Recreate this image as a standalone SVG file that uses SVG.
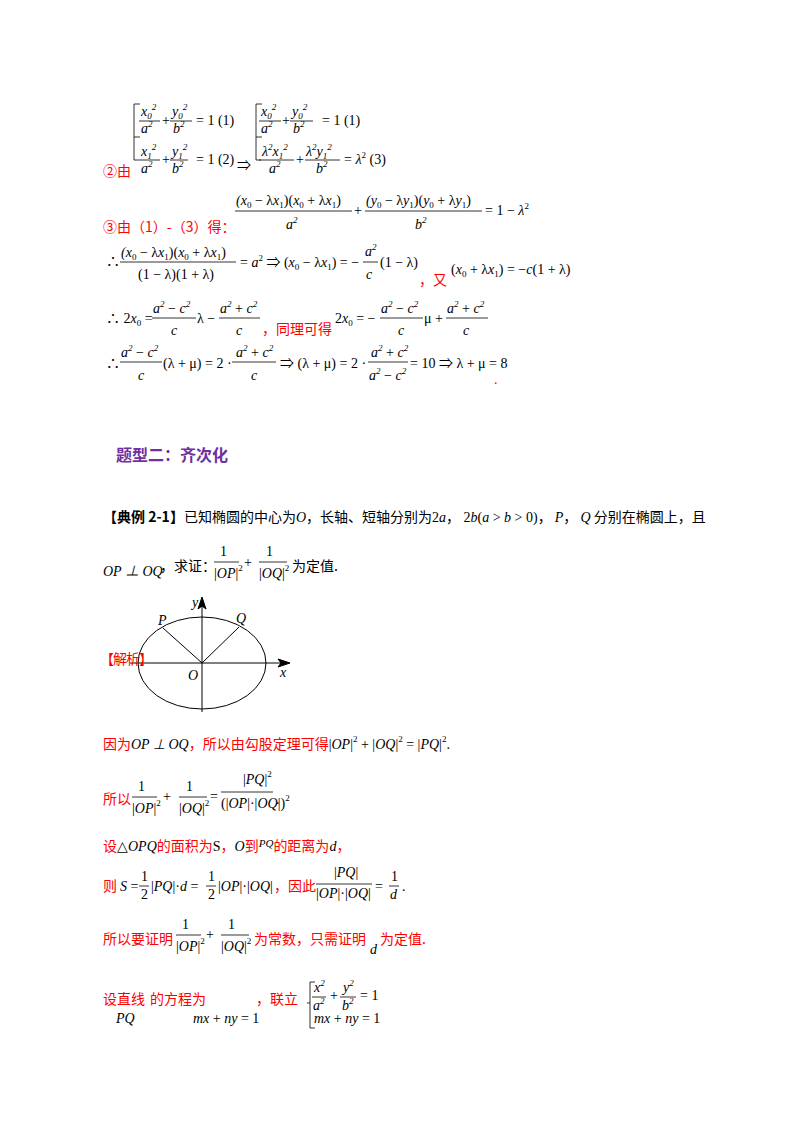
<svg xmlns="http://www.w3.org/2000/svg" width="800" height="1132" viewBox="0 0 800 1132">
<style>
text{font-family:"Liberation Serif","Noto Sans CJK SC",serif;font-size:14px;fill:#000}
.i{font-style:italic}
.s{font-size:9px}
.cn{font-family:"Noto Sans CJK SC","Liberation Sans",sans-serif;font-size:14px}
.red{fill:#ff0000}
.h{font-family:"Noto Sans CJK SC",sans-serif;font-size:16px;font-weight:bold;fill:#7030a0}
line.f{stroke:#000;stroke-width:0.8}
</style>
<rect width="800" height="1132" fill="#fff"/>
<g id="system1">
<path d="M134 104 V160 M134 104 h6 M134 137 h6 M134 160 h5" stroke="#000" fill="none" stroke-width="0.8"/>
<text x="141" y="116" class="i">x<tspan class="s" dy="3">0</tspan><tspan class="s" dy="-9">2</tspan></text>
<line class="f" x1="139" y1="121" x2="160" y2="121"/><text x="141" y="133" class="i">a<tspan class="s" dy="-6">2</tspan></text>
<text x="162" y="125">+</text>
<text x="172" y="116" class="i">y<tspan class="s" dy="3">0</tspan><tspan class="s" dy="-9">2</tspan></text>
<line class="f" x1="170" y1="121" x2="192" y2="121"/><text x="173" y="133" class="i">b<tspan class="s" dy="-6">2</tspan></text>
<text x="196" y="125">= 1  (1)</text>
<text x="141" y="156" class="i">x<tspan class="s" dy="3">1</tspan><tspan class="s" dy="-9">2</tspan></text>
<line class="f" x1="139" y1="160" x2="160" y2="160"/><text x="141" y="173" class="i">a<tspan class="s" dy="-6">2</tspan></text>
<text x="162" y="164">+</text>
<text x="172" y="156" class="i">y<tspan class="s" dy="3">1</tspan><tspan class="s" dy="-9">2</tspan></text>
<line class="f" x1="170" y1="160" x2="188" y2="160"/><text x="172" y="173" class="i">b<tspan class="s" dy="-6">2</tspan></text>
<text x="196" y="164">= 1  (2)</text>
<text x="237" y="170">⇒</text>
</g>
<g id="system2">
<path d="M256 104 V160 M256 104 h6 M256 137 h6 M256 160 h5" stroke="#000" fill="none" stroke-width="0.8"/>
<text x="261" y="116" class="i">x<tspan class="s" dy="3">0</tspan><tspan class="s" dy="-9">2</tspan></text>
<line class="f" x1="259" y1="121" x2="281" y2="121"/><text x="261" y="133" class="i">a<tspan class="s" dy="-6">2</tspan></text>
<text x="282" y="125">+</text>
<text x="292" y="116" class="i">y<tspan class="s" dy="3">0</tspan><tspan class="s" dy="-9">2</tspan></text>
<line class="f" x1="290" y1="121" x2="313" y2="121"/><text x="293" y="133" class="i">b<tspan class="s" dy="-6">2</tspan></text>
<text x="322" y="125">= 1  (1)</text>
<text x="262" y="156" class="i">λ<tspan class="s" dy="-6">2</tspan><tspan dy="6">x</tspan><tspan class="s" dy="3">1</tspan><tspan class="s" dy="-9">2</tspan></text>
<line class="f" x1="259" y1="160" x2="294" y2="160"/><text x="269" y="173" class="i">a<tspan class="s" dy="-6">2</tspan></text>
<text x="296" y="164">+</text>
<text x="306" y="156" class="i">λ<tspan class="s" dy="-6">2</tspan><tspan dy="6">y</tspan><tspan class="s" dy="3">1</tspan><tspan class="s" dy="-9">2</tspan></text>
<line class="f" x1="305" y1="160" x2="340" y2="160"/><text x="316" y="173" class="i">b<tspan class="s" dy="-6">2</tspan></text>
<text x="344" y="164">= <tspan class="i">λ</tspan><tspan class="s" dy="-6">2</tspan><tspan dy="6">   (3)</tspan></text>
</g>
<text x="103" y="176" class="cn red">②由</text>
<g id="row3">
<text x="236" y="205"><tspan class="i">(x</tspan><tspan class="s" dy="3">0</tspan><tspan dy="-3"> − λ</tspan><tspan class="i">x</tspan><tspan class="s" dy="3">1</tspan><tspan dy="-3">)(</tspan><tspan class="i">x</tspan><tspan class="s" dy="3">0</tspan><tspan dy="-3"> + λ</tspan><tspan class="i">x</tspan><tspan class="s" dy="3">1</tspan><tspan dy="-3">)</tspan></text>
<line class="f" x1="235" y1="211" x2="352" y2="211"/><text x="286" y="229" class="i">a<tspan class="s" dy="-6">2</tspan></text>
<text x="354" y="215">+</text>
<text x="366" y="205"><tspan class="i">(y</tspan><tspan class="s" dy="3">0</tspan><tspan dy="-3"> − λ</tspan><tspan class="i">y</tspan><tspan class="s" dy="3">1</tspan><tspan dy="-3">)(</tspan><tspan class="i">y</tspan><tspan class="s" dy="3">0</tspan><tspan dy="-3"> + λ</tspan><tspan class="i">y</tspan><tspan class="s" dy="3">1</tspan><tspan dy="-3">)</tspan></text>
<line class="f" x1="365" y1="211" x2="482" y2="211"/><text x="415" y="229" class="i">b<tspan class="s" dy="-6">2</tspan></text>
<text x="485" y="215">= 1 − <tspan class="i">λ</tspan><tspan class="s" dy="-6">2</tspan></text>
</g>
<text x="103" y="232" class="cn red">③由（1）-（3）得：</text>
<g id="row4">
<text x="106" y="266">∴</text>
<text x="121" y="257"><tspan class="i">(x</tspan><tspan class="s" dy="3">0</tspan><tspan dy="-3"> − λ</tspan><tspan class="i">x</tspan><tspan class="s" dy="3">1</tspan><tspan dy="-3">)(</tspan><tspan class="i">x</tspan><tspan class="s" dy="3">0</tspan><tspan dy="-3"> + λ</tspan><tspan class="i">x</tspan><tspan class="s" dy="3">1</tspan><tspan dy="-3">)</tspan></text>
<line class="f" x1="120" y1="262" x2="236" y2="262"/><text x="138" y="279">(1 − λ)(1 + λ)</text>
<text x="240" y="267">= <tspan class="i">a</tspan><tspan class="s" dy="-6">2</tspan><tspan dy="6">  ⇒  (</tspan><tspan class="i">x</tspan><tspan class="s" dy="3">0</tspan><tspan dy="-3"> − λ</tspan><tspan class="i">x</tspan><tspan class="s" dy="3">1</tspan><tspan dy="-3">) = −</tspan></text>
<text x="365" y="256" class="i">a<tspan class="s" dy="-6">2</tspan></text>
<line class="f" x1="363" y1="262" x2="378" y2="262"/><text x="366" y="279" class="i">c</text>
<text x="380" y="267">(1 − λ)</text>
<text x="419" y="285" class="cn red">，又</text>
<text x="451" y="274">(<tspan class="i">x</tspan><tspan class="s" dy="3">0</tspan><tspan dy="-3"> + λ</tspan><tspan class="i">x</tspan><tspan class="s" dy="3">1</tspan><tspan dy="-3">) = −</tspan><tspan class="i">c</tspan>(1 + λ)</text>
</g>
<g id="row5">
<text x="106" y="323">∴  2<tspan class="i">x</tspan><tspan class="s" dy="3">0</tspan><tspan dy="-3"> =</tspan></text>
<text x="153" y="313" class="i">a<tspan class="s" dy="-6">2</tspan><tspan dy="6" font-style="normal"> − </tspan>c<tspan class="s" dy="-6">2</tspan></text>
<line class="f" x1="152" y1="318" x2="196" y2="318"/><text x="171" y="335" class="i">c</text>
<text x="197" y="323">λ −</text>
<text x="220" y="313" class="i">a<tspan class="s" dy="-6">2</tspan><tspan dy="6" font-style="normal"> + </tspan>c<tspan class="s" dy="-6">2</tspan></text>
<line class="f" x1="219" y1="318" x2="260" y2="318"/><text x="236" y="335" class="i">c</text>
<text x="262" y="334" class="cn red">，同理可得</text>
<text x="335" y="323">2<tspan class="i">x</tspan><tspan class="s" dy="3">0</tspan><tspan dy="-3"> = −</tspan></text>
<text x="381" y="313" class="i">a<tspan class="s" dy="-6">2</tspan><tspan dy="6" font-style="normal"> − </tspan>c<tspan class="s" dy="-6">2</tspan></text>
<line class="f" x1="380" y1="318" x2="423" y2="318"/><text x="398" y="335" class="i">c</text>
<text x="424" y="323">μ +</text>
<text x="447" y="313" class="i">a<tspan class="s" dy="-6">2</tspan><tspan dy="6" font-style="normal"> + </tspan>c<tspan class="s" dy="-6">2</tspan></text>
<line class="f" x1="446" y1="318" x2="488" y2="318"/><text x="463" y="335" class="i">c</text>
</g>
<g id="row6">
<text x="106" y="368">∴</text>
<text x="121" y="357" class="i">a<tspan class="s" dy="-6">2</tspan><tspan dy="6" font-style="normal"> − </tspan>c<tspan class="s" dy="-6">2</tspan></text>
<line class="f" x1="120" y1="362" x2="162" y2="362"/><text x="138" y="380" class="i">c</text>
<text x="163" y="368">(λ + μ) = 2 ·</text>
<text x="236" y="357" class="i">a<tspan class="s" dy="-6">2</tspan><tspan dy="6" font-style="normal"> + </tspan>c<tspan class="s" dy="-6">2</tspan></text>
<line class="f" x1="232" y1="362" x2="276" y2="362"/><text x="251" y="380" class="i">c</text>
<text x="280" y="368">⇒  (λ + μ) = 2 ·</text>
<text x="371" y="357" class="i">a<tspan class="s" dy="-6">2</tspan><tspan dy="6" font-style="normal"> + </tspan>c<tspan class="s" dy="-6">2</tspan></text>
<line class="f" x1="368" y1="362" x2="408" y2="362"/><text x="369" y="380" class="i">a<tspan class="s" dy="-6">2</tspan><tspan dy="6" font-style="normal"> − </tspan>c<tspan class="s" dy="-6">2</tspan></text>
<text x="410" y="368">= 10  ⇒  λ + μ = 8</text>
<text x="494" y="384" class="red">.</text>
</g>
<text x="116" y="461" class="h">题型二：齐次化</text>
<g id="problem">
<text x="103" y="522" class="cn"><tspan font-weight="bold">【典例 2-1】</tspan>已知椭圆的中心为<tspan class="i" font-family="Liberation Serif">O</tspan>，长轴、短轴分别为<tspan font-family="Liberation Serif">2<tspan class="i">a</tspan></tspan>，<tspan font-family="Liberation Serif"> 2<tspan class="i">b</tspan>(<tspan class="i">a</tspan> &gt; <tspan class="i">b</tspan> &gt; 0)</tspan>， <tspan class="i" font-family="Liberation Serif">P</tspan>， <tspan class="i" font-family="Liberation Serif">Q</tspan> 分别在椭圆上，且</text>
<text x="103" y="576" class="i">OP ⊥ OQ</text>
<text x="160" y="571" class="cn" font-size="13">，求证：</text>
<text x="220" y="556">1</text>
<line class="f" x1="214" y1="562" x2="239" y2="562"/><text x="214" y="578">|<tspan class="i">OP</tspan>|<tspan class="s" dy="-7">2</tspan></text>
<text x="244" y="567">+</text>
<text x="266" y="556">1</text>
<line class="f" x1="259" y1="562" x2="287" y2="562"/><text x="259" y="578">|<tspan class="i">OQ</tspan>|<tspan class="s" dy="-7">2</tspan></text>
<text x="292" y="571" class="cn">为定值.</text>
</g>
<g id="figure" stroke="#000" fill="none" stroke-width="1">
<ellipse cx="202" cy="663" rx="64" ry="46"/>
<line x1="130" y1="663" x2="282" y2="663"/>
<line x1="202" y1="712" x2="202" y2="602"/>
<line x1="202" y1="663" x2="163" y2="628"/>
<line x1="202" y1="663" x2="239" y2="627"/>
<path d="M290 663 L278 659 L281 663 L278 667 Z" fill="#000"/>
<path d="M202 597 L198 609 L202 606 L206 609 Z" fill="#000"/>
</g>
<g id="fig-labels">
<text x="158" y="625" class="i">P</text>
<text x="236" y="623" class="i">Q</text>
<text x="192" y="607" class="i">y</text>
<text x="188" y="680" class="i">O</text>
<text x="280" y="677" class="i">x</text>
</g>
<text x="100" y="664" class="cn red" font-size="12" letter-spacing="-1">【解析】</text>
<g id="solution">
<text x="103" y="749" class="cn red">因为<tspan class="i" font-family="Liberation Serif" fill="#000">OP ⊥ OQ</tspan>，所以由勾股定理可得<tspan font-family="Liberation Serif" fill="#000">|<tspan class="i">OP</tspan>|<tspan class="s" dy="-7">2</tspan><tspan dy="7"> + |</tspan><tspan class="i">OQ</tspan>|<tspan class="s" dy="-7">2</tspan><tspan dy="7"> = |</tspan><tspan class="i">PQ</tspan>|<tspan class="s" dy="-7">2</tspan><tspan dy="7">.</tspan></tspan></text>
<text x="103" y="804" class="cn red">所以</text>
<text x="138" y="791">1</text>
<line class="f" x1="132" y1="797" x2="157" y2="797"/><text x="132" y="813">|<tspan class="i">OP</tspan>|<tspan class="s" dy="-7">2</tspan></text>
<text x="163" y="801">+</text>
<text x="186" y="791">1</text>
<line class="f" x1="179" y1="797" x2="207" y2="797"/><text x="179" y="813">|<tspan class="i">OQ</tspan>|<tspan class="s" dy="-7">2</tspan></text>
<text x="210" y="801">=</text>
<text x="243" y="784">|<tspan class="i">PQ</tspan>|<tspan class="s" dy="-7">2</tspan></text>
<line class="f" x1="221" y1="792" x2="273" y2="792"/><text x="221" y="808">(|<tspan class="i">OP</tspan>|·|<tspan class="i">OQ</tspan>|)<tspan class="s" dy="-7">2</tspan></text>
<text x="276" y="804">.</text>
<text x="103" y="851" class="cn red">设<tspan fill="#000" font-family="Liberation Serif">△<tspan class="i">OPQ</tspan></tspan>的面积为<tspan fill="#000" font-family="Liberation Serif">S</tspan>，<tspan fill="#000" font-family="Liberation Serif" class="i">O</tspan>到<tspan fill="#000" font-family="Liberation Serif" class="i" font-size="11" dy="-4">PQ</tspan><tspan dy="4">的距离为</tspan><tspan fill="#000" font-family="Liberation Serif" class="i">d</tspan>，</text>
<text x="103" y="891" class="cn red">则</text>
<text x="120" y="891"><tspan class="i">S</tspan> =</text>
<text x="141" y="881">1</text>
<line class="f" x1="139" y1="886" x2="149" y2="886"/><text x="141" y="899">2</text>
<text x="151" y="891">|<tspan class="i">PQ</tspan>|·<tspan class="i">d</tspan> =</text>
<text x="208" y="881">1</text>
<line class="f" x1="206" y1="886" x2="216" y2="886"/><text x="208" y="899">2</text>
<text x="218" y="891">|<tspan class="i">OP</tspan>|·|<tspan class="i">OQ</tspan>|</text>
<text x="274" y="891" class="cn red">，因此</text>
<text x="334" y="877">|<tspan class="i">PQ</tspan>|</text>
<line class="f" x1="316" y1="884" x2="372" y2="884"/><text x="316" y="898">|<tspan class="i">OP</tspan>|·|<tspan class="i">OQ</tspan>|</text>
<text x="375" y="891">=</text>
<text x="391" y="881">1</text>
<line class="f" x1="389" y1="886" x2="399" y2="886"/><text x="390" y="899" class="i">d</text>
<text x="402" y="891">.</text>
<text x="103" y="944" class="cn red">所以要证明</text>
<text x="182" y="929">1</text>
<line class="f" x1="176" y1="935" x2="201" y2="935"/><text x="176" y="951">|<tspan class="i">OP</tspan>|<tspan class="s" dy="-7">2</tspan></text>
<text x="206" y="939">+</text>
<text x="228" y="929">1</text>
<line class="f" x1="221" y1="935" x2="249" y2="935"/><text x="221" y="951">|<tspan class="i">OQ</tspan>|<tspan class="s" dy="-7">2</tspan></text>
<text x="254" y="944" class="cn red">为常数，只需证明</text>
<text x="370" y="954" class="i">d</text>
<text x="380" y="944" class="cn red">为定值.</text>
<text x="103" y="1004" class="cn red">设直线</text>
<text x="150" y="1004" class="cn red">的方程为</text>
<text x="256" y="1004" class="cn red">，联立</text>
<text x="116" y="1023" class="i">PQ</text>
<text x="193" y="1023"><tspan class="i">mx</tspan> + <tspan class="i">ny</tspan> = 1</text>
<path d="M310 982 V1028 M310 982 h5 M310 1003 h-3 M310 1028 h5" stroke="#000" fill="none" stroke-width="0.8"/>
<text x="314" y="992" class="i">x<tspan class="s" dy="-6">2</tspan></text>
<line class="f" x1="312" y1="997" x2="326" y2="997"/><text x="313" y="1010" class="i">a<tspan class="s" dy="-6">2</tspan></text>
<text x="330" y="1000">+</text>
<text x="343" y="992" class="i">y<tspan class="s" dy="-6">2</tspan></text>
<line class="f" x1="340" y1="997" x2="356" y2="997"/><text x="342" y="1010" class="i">b<tspan class="s" dy="-6">2</tspan></text>
<text x="360" y="1000">= 1</text>
<text x="314" y="1023"><tspan class="i">mx</tspan> + <tspan class="i">ny</tspan> = 1</text>
</g>
</svg>
